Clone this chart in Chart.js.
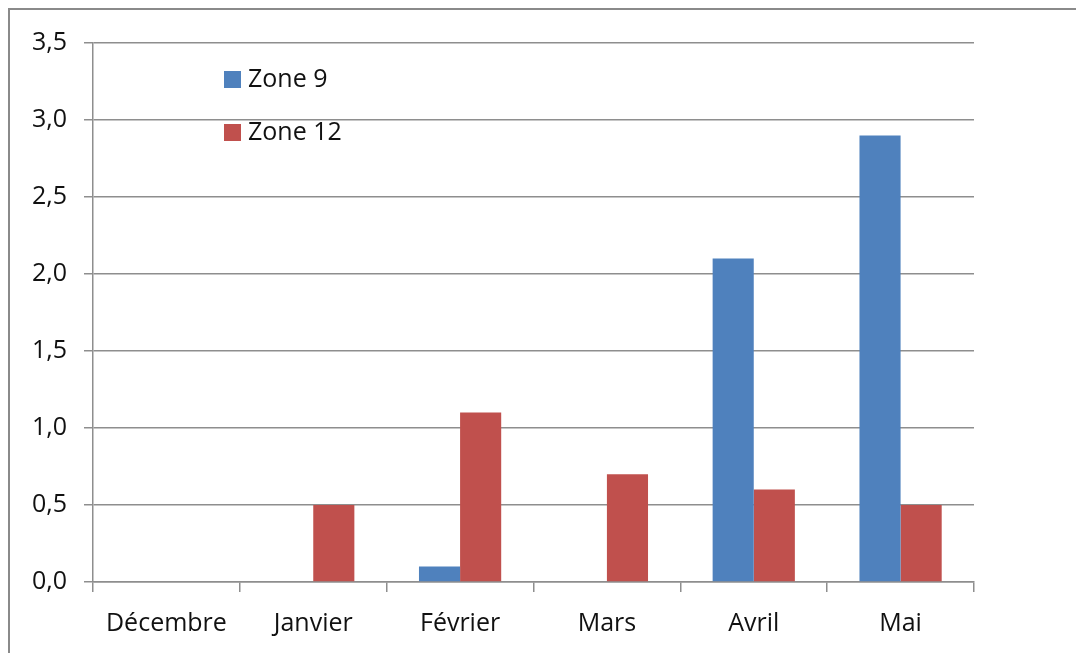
<!DOCTYPE html>
<html lang="fr">
<head>
<meta charset="utf-8">
<title>Zone 9 / Zone 12</title>
<script src="https://cdn.jsdelivr.net/npm/chart.js@4.4.1/dist/chart.umd.min.js"></script>
<style>
  html, body { margin: 0; padding: 0; background: #ffffff; }
  #wrap { position: relative; width: 1076px; height: 653px; }
  canvas { display: block; }
</style>
</head>
<body>
<div id="wrap"><canvas id="chart" width="1076" height="653"></canvas></div>
<script>
// Monthly values per zone
const categories = ['Décembre', 'Janvier', 'Février', 'Mars', 'Avril', 'Mai'];
const zone9 = [0, 0, 0.1, 0, 2.1, 2.9];
const zone12 = [0, 0.5, 1.1, 0.7, 0.6, 0.5];
const seriesNames = ['Zone 9', 'Zone 12'];
const yTickLabels = ['0,0', '0,5', '1,0', '1,5', '2,0', '2,5', '3,0', '3,5'];

const FONT = 'Open Sans';
const FONT_SIZE = 25;
const TEXT = '#111111';
const GRID = '#8e8e8e';

// White background plus the grey frame along the top and left edges
const framePlugin = {
  id: 'frame',
  beforeDraw(chart) {
    const ctx = chart.ctx;
    ctx.save();
    ctx.fillStyle = '#ffffff';
    ctx.fillRect(0, 0, chart.width, chart.height);
    ctx.strokeStyle = '#8a8a8a';
    ctx.lineWidth = 2;
    ctx.beginPath();
    ctx.moveTo(9, chart.height);
    ctx.lineTo(9, 9);
    ctx.lineTo(chart.width, 9);
    ctx.stroke();
    ctx.restore();
  }
};

// Legend drawn inside the plot area, stacked vertically
const innerLegend = {
  id: 'innerLegend',
  afterDraw(chart) {
    const ctx = chart.ctx;
    const area = chart.chartArea;
    const x = area.left + 131;
    const y0 = area.top + 28;
    const rowGap = 53;
    const box = 17;
    ctx.save();
    ctx.font = FONT_SIZE + 'px "' + FONT + '"';
    ctx.textBaseline = 'middle';
    ctx.textAlign = 'left';
    chart.data.datasets.forEach((ds, i) => {
      const y = y0 + i * rowGap;
      ctx.fillStyle = ds.backgroundColor;
      ctx.fillRect(x, y, box, box);
      ctx.fillStyle = TEXT;
      ctx.fillText(ds.label, x + box + 7, y + box / 2);
    });
    ctx.restore();
  }
};

new Chart(document.getElementById('chart'), {
  type: 'bar',
  data: {
    labels: categories,
    datasets: [
      { label: seriesNames[0], data: zone9, backgroundColor: '#4f81bd' },
      { label: seriesNames[1], data: zone12, backgroundColor: '#c0504d' }
    ]
  },
  options: {
    responsive: false,
    animation: false,
    devicePixelRatio: 1,
    layout: { padding: { left: 0, right: 102, top: 43, bottom: 0 } },
    datasets: { bar: { categoryPercentage: 0.56, barPercentage: 1.0 } },
    plugins: {
      legend: { display: false },
      tooltip: { enabled: false }
    },
    scales: {
      x: {
        offset: true,
        grid: { offset: true, drawOnChartArea: false, drawTicks: true, tickLength: 10, color: GRID, lineWidth: 1.5 },
        border: { display: true, color: GRID, width: 1.5 },
        ticks: { color: TEXT, font: { family: FONT, size: FONT_SIZE }, padding: 17, maxRotation: 0 },
        afterFit(scale) { scale.height = 71; }
      },
      y: {
        min: 0,
        max: 3.5,
        ticks: {
          stepSize: 0.5,
          color: TEXT,
          font: { family: FONT, size: FONT_SIZE },
          padding: 17,
          callback: (v, i) => yTickLabels[i]
        },
        grid: { color: GRID, lineWidth: 1.5, tickLength: 9, drawTicks: true },
        border: { display: true, color: GRID, width: 1.5 },
        afterFit(scale) { scale.width = 93; }
      }
    }
  },
  plugins: [framePlugin, innerLegend]
});
</script>
</body>
</html>
